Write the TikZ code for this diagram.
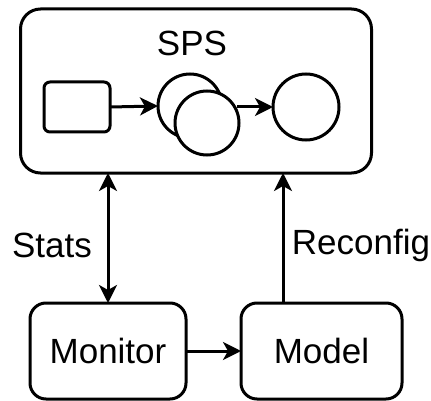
\documentclass[tikz,border=0pt]{standalone}
\usepackage{fontspec}
\setmainfont{Liberation Sans}
\usetikzlibrary{arrows.meta}
\begin{document}
\begin{tikzpicture}[x=1pt,y=-1pt,
  every node/.style={inner sep=0pt, outer sep=0pt},
  box/.style={draw, line width=3pt, rounded corners=#1},
  circ/.style={draw, circle, line width=3pt, fill=white, minimum size=64pt},
  lbl/.style={font=\fontsize{35}{38}\selectfont},
  tip/.style={Stealth[length=18pt,width=18pt,inset=5pt]},
  conn/.style={line width=3pt, -{Stealth[length=18pt,width=18pt,inset=5pt]}},
  conn2/.style={line width=3pt, {Stealth[length=18pt,width=18pt,inset=5pt]}-{Stealth[length=18pt,width=18pt,inset=5pt]}}]
\useasboundingbox (0,0) rectangle (431,401);
% SPS container
\node[box=20pt, minimum width=351pt, minimum height=164pt] (sps) at (196,91) {};
\node[lbl] (spslbl) at (192,43) {SPS};
% inner shapes
\node[box=6pt, minimum width=66pt, minimum height=50pt] (src) at (77,107) {};
\node[circ] (c1) at (190,106) {};
\node[circ] (c2) at (207,123) {};
\node[circ, minimum size=66pt] (c3) at (306,107) {};
\draw[conn] (src.east) -- (c1.west);
\coordinate (c2out) at (237,107);
\draw[conn] (c2out) -- (c3.west);
% bottom boxes
\node[box=16pt, minimum width=156pt, minimum height=96pt] (mon) at (108,351) {};
\node[lbl] at (mon.center) {Monitor};
\node[box=16pt, minimum width=161pt, minimum height=96pt] (mod) at (321.5,351) {};
\node[lbl] at (mod.center) {Model};
\draw[conn] (mon.east) -- (mod.west);
% vertical connectors
\draw[conn2] (sps.south -| 108,0) -- (mon.north);
\draw[conn] (mod.north -| 283,0) -- (sps.south -| 283,0);
\node[lbl] (stats) at (52,245) {Stats};
\node[lbl] (reconf) at (361,245) {Reconfig};
\end{tikzpicture}
\end{document}
